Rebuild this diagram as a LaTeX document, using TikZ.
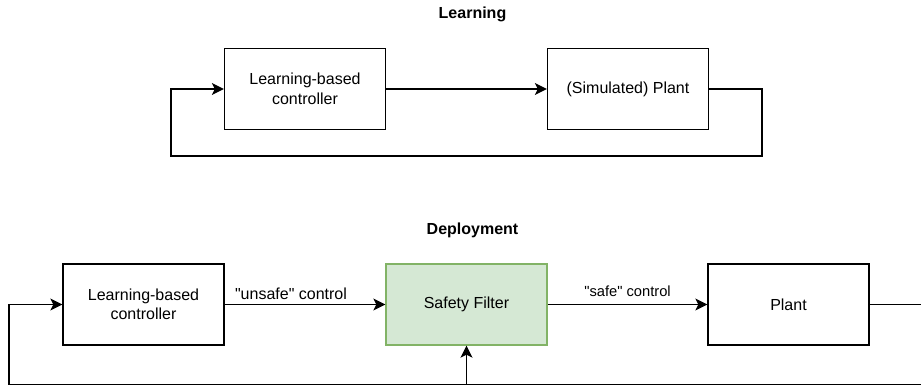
\documentclass[tikz,border=0pt]{standalone}
\usepackage{fontspec}
\setmainfont{Liberation Sans}
% a plain copy of the family without TeX ligatures, so that " stays straight
\newfontfamily\plainsans{Liberation Sans}
\usetikzlibrary{arrows.meta}
\definecolor{filterfill}{HTML}{D5E8D4}
\definecolor{filterline}{HTML}{82B366}
\tikzset{
  blockbox/.style={draw=black, line width=1.3pt, minimum width=161pt, minimum height=81pt,
    inner sep=0pt, align=center, font=\fontsize{16}{19.5}\selectfont},
  wire/.style={line width=1.3pt, draw=black},
  flow/.style={wire, -{Stealth[length=12pt, width=12pt, inset=3pt]}},
  heading/.style={font=\fontsize{16}{19}\bfseries\selectfont},
  wirelabel/.style={font=\plainsans\fontsize{16}{19}\selectfont, inner sep=0pt},
  smalllabel/.style={font=\plainsans\fontsize{14.7}{17}\selectfont, inner sep=0pt},
}
\begin{document}
\begin{tikzpicture}[x=1pt, y=-1pt]
  \useasboundingbox (0,0) rectangle (921,385);

  % Learning loop
  \node[heading] (learnhead) at (472.5,14) {Learning};
  \node[blockbox] (lctrl) at (305,89) {Learning-based\\controller};
  \node[blockbox] (simplant) at (628,89) {(Simulated) Plant};
  \coordinate (lr) at (762,156);
  \coordinate (ll) at (171,156);
  \draw[flow] (lctrl.east) -- (simplant.west);
  \draw[flow] (simplant.east) -| (lr) -- (ll) |- (lctrl.west);

  % Deployment loop
  \node[heading] (dephead) at (472.5,230) {Deployment};
  \node[blockbox] (dctrl) at (143.5,304.5) {Learning-based\\controller};
  \node[blockbox, draw=filterline, fill=filterfill] (filter) at (466.5,304.5) {Safety Filter};
  \node[blockbox] (plant) at (788.5,304.5) {Plant};
  \coordinate (outend) at (925,304.5);
  \coordinate (fbcorner) at (9,385.0);
  \coordinate (fbmid) at (466.5,385.0);
  \coordinate (fbright) at (925,385.0);

  \draw[flow] (dctrl.east) -- (filter.west);
  \node[wirelabel] (ulab) at (291,294) {"unsafe" control};
  \draw[flow] (filter.east) -- (plant.west);
  \node[smalllabel] (slab) at (627.5,291) {"safe" control};
  \draw[wire] (plant.east) -- (outend);
  \draw[flow] (fbright) -- (fbcorner) |- (dctrl.west);
  \draw[flow] (fbmid) -- (filter.south);
\end{tikzpicture}
\end{document}
